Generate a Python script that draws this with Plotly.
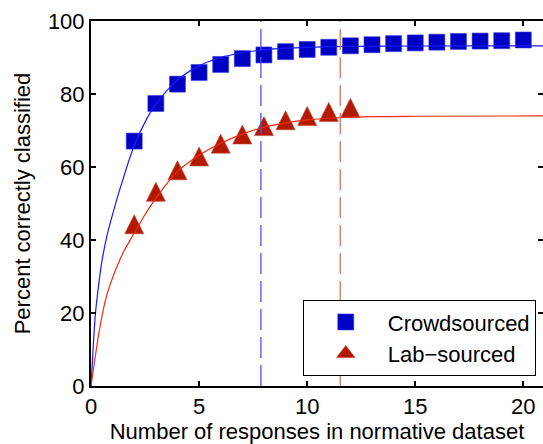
import plotly.graph_objects as go

# ---- data ----
responses = list(range(2, 21))
crowd_pct = [67.1, 77.4, 82.7, 85.9, 88.1, 89.7, 90.7, 91.6, 92.2, 92.8,
             93.2, 93.5, 93.8, 94.0, 94.2, 94.4, 94.5, 94.6, 94.8]
lab_responses = list(range(2, 13))
lab_pct = [44.3, 53.2, 59.1, 62.9, 66.4, 68.9, 71.2, 72.8, 74.0, 75.1, 76.2]

# fitted curves
crowd_fit_x = [0, 0.1, 0.2, 0.35, 0.5, 0.75, 1, 1.25, 1.5, 1.75, 2, 2.5, 3, 4, 5,
               6, 7, 8, 9, 10, 12, 15, 21]
crowd_fit_y = [0, 10.5, 19.5, 27.5, 34, 41.5, 47, 52.3, 57, 61.7, 65.9, 72.3, 77.2,
               83.8, 87.7, 90.0, 91.3, 92.1, 92.55, 92.8, 93.05, 93.15, 93.2]
lab_fit_x = [0, 0.15, 0.38, 0.68, 1, 1.25, 1.5, 2, 2.5, 3, 3.5, 4, 5, 6, 7, 8,
             9, 10, 11.5, 13, 15, 21]
lab_fit_y = [0, 6.2, 15, 23.8, 29.7, 33.4, 36.7, 41.9, 47, 51.4, 55.4, 58.8, 63.2,
             66.5, 69.0, 70.9, 72.1, 72.9, 73.5, 73.8, 73.9, 74.0]

# vertical dashed markers
crowd_cut = 7.86
lab_cut = 11.53

x_ticks = [0, 5, 10, 15, 20]
y_ticks = [0, 20, 40, 60, 80, 100]

FONT = "Liberation Sans, Arial, Helvetica, sans-serif"
SQ_COLOR = "#0000c4"
TRI_COLOR = "#b21a00"
BLUE_LINE = "#1a1aff"
RED_LINE = "#f02a10"
BLUE_DASH = "#5050ee"
RED_DASH = "#d27466"

fig = go.Figure()

fig.add_trace(go.Scatter(
    x=responses, y=crowd_pct, mode="markers", name="Crowdsourced",
    marker=dict(symbol="square", size=16, color=SQ_COLOR,
                line=dict(width=0.6, color="#3a3ae0"))))
# triangles drawn in the plot (upright, centred on the value)
fig.add_trace(go.Scatter(
    x=lab_responses, y=lab_pct, mode="markers", name="Lab\u2212sourced",
    showlegend=False,
    marker=dict(symbol="arrow-down", angle=180, size=19, standoff=9.5,
                color=TRI_COLOR, line=dict(width=0.6, color="#c84030"))))
# legend entry for the triangles
fig.add_trace(go.Scatter(
    x=[None], y=[None], mode="markers", name="Lab\u2212sourced",
    marker=dict(symbol="triangle-up", size=19, color=TRI_COLOR,
                line=dict(width=0.6, color="#c84030"))))

fig.add_trace(go.Scatter(
    x=crowd_fit_x, y=crowd_fit_y, mode="lines", showlegend=False,
    line=dict(color=BLUE_LINE, width=1.2, shape="spline", smoothing=0.8),
    hoverinfo="skip"))
fig.add_trace(go.Scatter(
    x=lab_fit_x, y=lab_fit_y, mode="lines", showlegend=False,
    line=dict(color=RED_LINE, width=1.2, shape="spline", smoothing=0.8),
    hoverinfo="skip"))

fig.add_trace(go.Scatter(
    x=[crowd_cut, crowd_cut], y=[0, 100], mode="lines", showlegend=False,
    yaxis="y2", line=dict(color=BLUE_DASH, width=1.3, dash="21px,7px"),
    hoverinfo="skip"))
fig.add_trace(go.Scatter(
    x=[lab_cut, lab_cut], y=[0, 100], mode="lines", showlegend=False,
    yaxis="y2", line=dict(color=RED_DASH, width=1.3, dash="21px,7px"),
    hoverinfo="skip"))

fig.update_layout(
    width=543, height=444, autosize=False,
    margin=dict(l=91, r=0, t=21, b=58, pad=0),
    paper_bgcolor="white", plot_bgcolor="white",
    font=dict(family=FONT, size=22, color="black"),
    showlegend=True,
    legend=dict(x=0.984, xanchor="right", y=0.027, yanchor="bottom",
                bgcolor="white", bordercolor="black", borderwidth=1,
                font=dict(family=FONT, size=22, color="black"),
                itemwidth=74, tracegroupgap=0),
    xaxis=dict(range=[0, 20.91], tickvals=x_ticks, ticks="inside", ticklen=5,
               tickwidth=1.5, tickcolor="black", showline=True, linewidth=2,
               linecolor="black", mirror="ticks", showgrid=False, zeroline=False,
               tickfont=dict(size=22), automargin=False,
               title=dict(text="Number of responses in normative dataset",
                          font=dict(size=22), standoff=6)),
    yaxis=dict(range=[0, 100], tickvals=y_ticks, ticks="inside", ticklen=5,
               tickwidth=1.5, tickcolor="black", showline=True, linewidth=2,
               linecolor="black", mirror=False, showgrid=False, zeroline=False,
               tickfont=dict(size=22), automargin=True,
               title=dict(text="Percent correctly classified",
                          font=dict(size=22), standoff=11)),
    yaxis2=dict(range=[0, 100], tickvals=y_ticks, ticks="inside", ticklen=5,
                tickwidth=1.5, tickcolor="black", overlaying="y", side="right",
                showline=False, showticklabels=False, showgrid=False,
                zeroline=False, automargin=False),
)

fig.write_html(
    "out.html",
    config={"displayModeBar": False},
    post_script="document.body.style.margin='0';document.body.style.overflow='hidden';",
)
